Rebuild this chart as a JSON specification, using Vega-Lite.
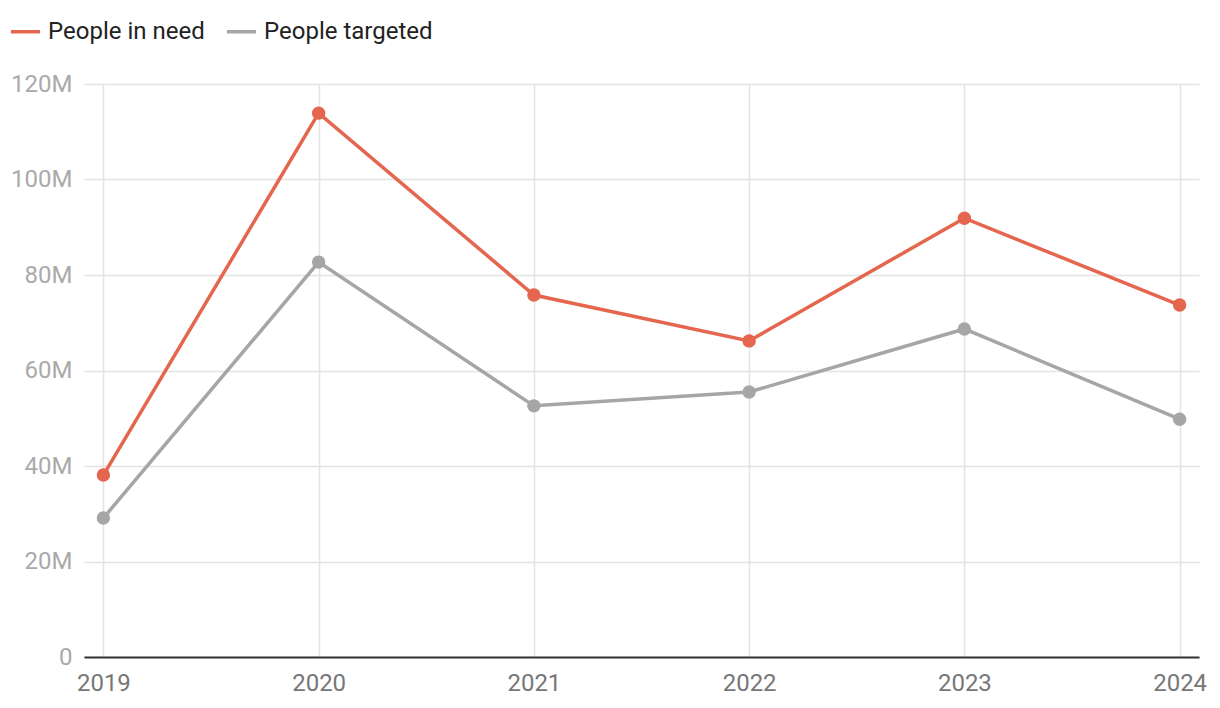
{
  "$schema": "https://vega.github.io/schema/vega-lite/v6.json",
  "width": 1115,
  "height": 573,
  "autosize": {"type": "none"},
  "padding": {"left": 84, "top": 84, "right": 21, "bottom": 51},
  "background": "white",
  "config": {
    "font": "Roboto",
    "view": {"stroke": null}
  },
  "data": {
    "values": [
      {"year": "2019", "series": "People in need", "value": 38100000},
      {"year": "2020", "series": "People in need", "value": 113900000},
      {"year": "2021", "series": "People in need", "value": 75800000},
      {"year": "2022", "series": "People in need", "value": 66200000},
      {"year": "2023", "series": "People in need", "value": 91900000},
      {"year": "2024", "series": "People in need", "value": 73700000},
      {"year": "2019", "series": "People targeted", "value": 29100000},
      {"year": "2020", "series": "People targeted", "value": 82700000},
      {"year": "2021", "series": "People targeted", "value": 52600000},
      {"year": "2022", "series": "People targeted", "value": 55500000},
      {"year": "2023", "series": "People targeted", "value": 68700000},
      {"year": "2024", "series": "People targeted", "value": 49800000}
    ]
  },
  "encoding": {
    "x": {
      "field": "year",
      "type": "ordinal",
      "scale": {"type": "point", "padding": 0.09},
      "axis": {
        "title": null,
        "labelAngle": 0,
        "labelFontSize": 24,
        "labelColor": "#777777",
        "labelPadding": 14,
        "ticks": false,
        "grid": true,
        "gridColor": "#e3e3e3",
        "gridWidth": 1.5,
        "domainColor": "#333333",
        "domainWidth": 2,
        "zindex": 0
      }
    },
    "y": {
      "field": "value",
      "type": "quantitative",
      "scale": {"domain": [0, 120000000]},
      "axis": {
        "title": null,
        "values": [0, 20000000, 40000000, 60000000, 80000000, 100000000, 120000000],
        "labelExpr": "datum.value == 0 ? '0' : (datum.value / 1000000) + 'M'",
        "labelFontSize": 24,
        "labelColor": "#aaaaaa",
        "labelPadding": 12,
        "ticks": false,
        "domain": false,
        "grid": true,
        "gridColor": "#e3e3e3",
        "gridWidth": 1.5
      }
    },
    "color": {
      "field": "series",
      "type": "nominal",
      "scale": {"domain": ["People in need", "People targeted"], "range": ["#e5664f", "#a6a6a6"]},
      "legend": {
        "title": null,
        "orient": "none",
        "legendX": -75,
        "legendY": -69,
        "direction": "horizontal",
        "symbolType": "stroke",
        "symbolSize": 850,
        "symbolStrokeWidth": 3.5,
        "labelFontSize": 24,
        "labelColor": "#222222",
        "labelOffset": 6,
        "labelLimit": 400,
        "columnPadding": 14
      }
    }
  },
  "layer": [
    {"mark": {"type": "line", "strokeWidth": 3.5}},
    {"mark": {"type": "point", "filled": true, "size": 180, "opacity": 1}}
  ]
}
